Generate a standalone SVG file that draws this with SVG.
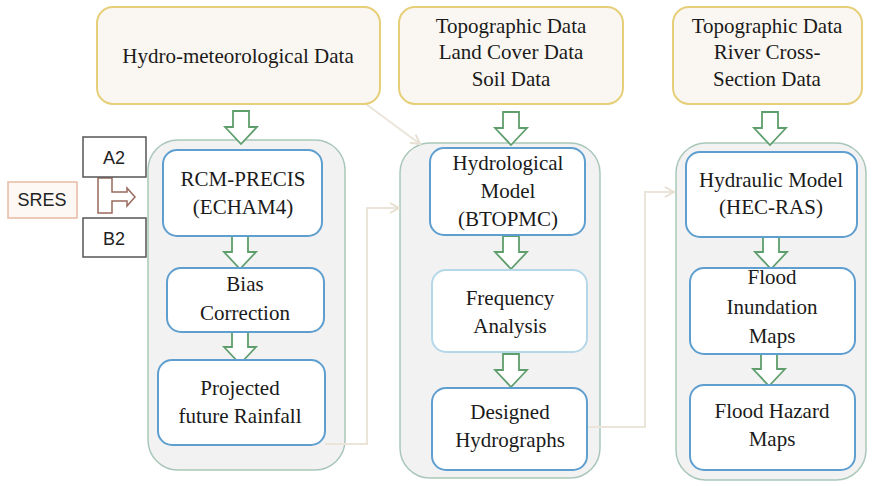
<svg xmlns="http://www.w3.org/2000/svg" width="872" height="486" viewBox="0 0 872 486">
<defs>
<style>
.src{fill:#faf7f2;stroke:#e6cf78;stroke-width:2}
.grp{fill:#f3f2f2;stroke:#a9c7b9;stroke-width:1.5}
.box{fill:#fff;stroke:#5f9fd0;stroke-width:2}
.boxl{fill:#fff;stroke:#b5d8e8;stroke-width:2}
.ha{fill:#fff;stroke:#5e9e6c;stroke-width:1.8;stroke-linejoin:miter}
.con{fill:none;stroke:#ebe5d9;stroke-width:2}
.t{font-family:"Liberation Serif","DejaVu Serif",serif;font-size:21px;fill:#1a1a1a;text-anchor:middle}
.s{font-family:"Liberation Sans","DejaVu Sans",sans-serif;font-size:18px;fill:#222;text-anchor:middle}
</style>
<marker id="chev" markerWidth="12" markerHeight="12" refX="10" refY="6" orient="auto" markerUnits="userSpaceOnUse">
<path d="M1,1 L10,6 L1,11" fill="none" stroke="#e6dfd2" stroke-width="2"/>
</marker>
<path id="harrow" d="M-8,0 H8 V16 H16 L0,33 L-16,16 H-8 Z"/>
</defs>

<g id="groups">
<rect id="grp-left" class="grp" x="148" y="140" width="197" height="330" rx="30"/>
<rect id="grp-mid" class="grp" x="400" y="143" width="200" height="335" rx="30"/>
<rect id="grp-right" class="grp" x="676" y="143" width="190" height="337" rx="30"/>
</g>

<g id="connectors">
<path class="con" d="M366,104 L420,144" marker-end="url(#chev)"/>
<path class="con" d="M325,444 H367 V208 H399" marker-end="url(#chev)"/>
<path class="con" d="M588,427 H645 V192 H674" marker-end="url(#chev)"/>
<path d="M98,178 H112 V192 H127 V188 L135,197 L127,206 V201 H112 V213 H98 Z" fill="#fff" stroke="#9a6a5e" stroke-width="1.5"/>
<use href="#harrow" class="ha" x="241" y="111"/>
<use href="#harrow" class="ha" x="240" y="236"/>
<use href="#harrow" class="ha" x="240" y="331"/>
<use href="#harrow" class="ha" x="511" y="112"/>
<use href="#harrow" class="ha" x="511" y="236"/>
<use href="#harrow" class="ha" x="511" y="354"/>
<use href="#harrow" class="ha" x="770" y="112"/>
<use href="#harrow" class="ha" x="771" y="236"/>
<use href="#harrow" class="ha" x="769" y="353"/>
</g>

<g id="n-hydromet">
<rect class="src" x="97" y="7" width="283" height="97" rx="16"/>
<text class="t" x="238" y="63">Hydro-meteorological Data</text>
</g>
<g id="n-topo1">
<rect class="src" x="399" y="7" width="224" height="97" rx="16"/>
<text class="t" x="511" y="33">Topographic Data</text>
<text class="t" x="511" y="59">Land Cover Data</text>
<text class="t" x="511" y="86">Soil Data</text>
</g>
<g id="n-topo2">
<rect class="src" x="673" y="7" width="189" height="97" rx="16"/>
<text class="t" x="767" y="33">Topographic Data</text>
<text class="t" x="767" y="59">River Cross-</text>
<text class="t" x="767" y="86">Section Data</text>
</g>

<g id="n-sres">
<rect x="8" y="182" width="69" height="36" fill="#fdf8f4" stroke="#e8b9a2" stroke-width="1.5"/>
<text class="s" x="42" y="206">SRES</text>
</g>
<g id="n-a2">
<rect x="83" y="137" width="63" height="40" fill="#fff" stroke="#555" stroke-width="1.5"/>
<text class="s" x="114" y="164">A2</text>
</g>
<g id="n-b2">
<rect x="83" y="218" width="63" height="39" fill="#fff" stroke="#555" stroke-width="1.5"/>
<text class="s" x="114" y="245">B2</text>
</g>

<g id="n-rcm">
<rect class="box" x="163" y="150" width="159" height="86" rx="14"/>
<text class="t" x="243" y="186">RCM-PRECIS</text>
<text class="t" x="243" y="214">(ECHAM4)</text>
</g>
<g id="n-bias">
<rect class="box" x="167" y="268" width="157" height="64" rx="14"/>
<text class="t" x="245" y="291">Bias</text>
<text class="t" x="245" y="320">Correction</text>
</g>
<g id="n-rain">
<rect class="box" x="158" y="360" width="167" height="85" rx="14"/>
<text class="t" x="240" y="395">Projected</text>
<text class="t" x="240" y="423">future Rainfall</text>
</g>

<g id="n-hydro">
<rect class="box" x="430" y="148" width="155" height="87" rx="14"/>
<text class="t" x="508" y="170">Hydrological</text>
<text class="t" x="508" y="198">Model</text>
<text class="t" x="508" y="226">(BTOPMC)</text>
</g>
<g id="n-freq">
<rect class="boxl" x="432" y="270" width="155" height="82" rx="14"/>
<text class="t" x="510" y="305">Frequency</text>
<text class="t" x="510" y="333">Analysis</text>
</g>
<g id="n-design">
<rect class="box" x="432" y="388" width="155" height="82" rx="14"/>
<text class="t" x="510" y="419">Designed</text>
<text class="t" x="510" y="447">Hydrographs</text>
</g>

<g id="n-hydraulic">
<rect class="box" x="686" y="152" width="171" height="85" rx="14"/>
<text class="t" x="771" y="187">Hydraulic Model</text>
<text class="t" x="771" y="214">(HEC-RAS)</text>
</g>
<g id="n-inund">
<rect class="box" x="690" y="268" width="165" height="86" rx="14"/>
<text class="t" x="772" y="284">Flood</text>
<text class="t" x="772" y="314">Inundation</text>
<text class="t" x="772" y="343">Maps</text>
</g>
<g id="n-hazard">
<rect class="box" x="690" y="385" width="165" height="85" rx="14"/>
<text class="t" x="772" y="418">Flood Hazard</text>
<text class="t" x="772" y="446">Maps</text>
</g>
</svg>
